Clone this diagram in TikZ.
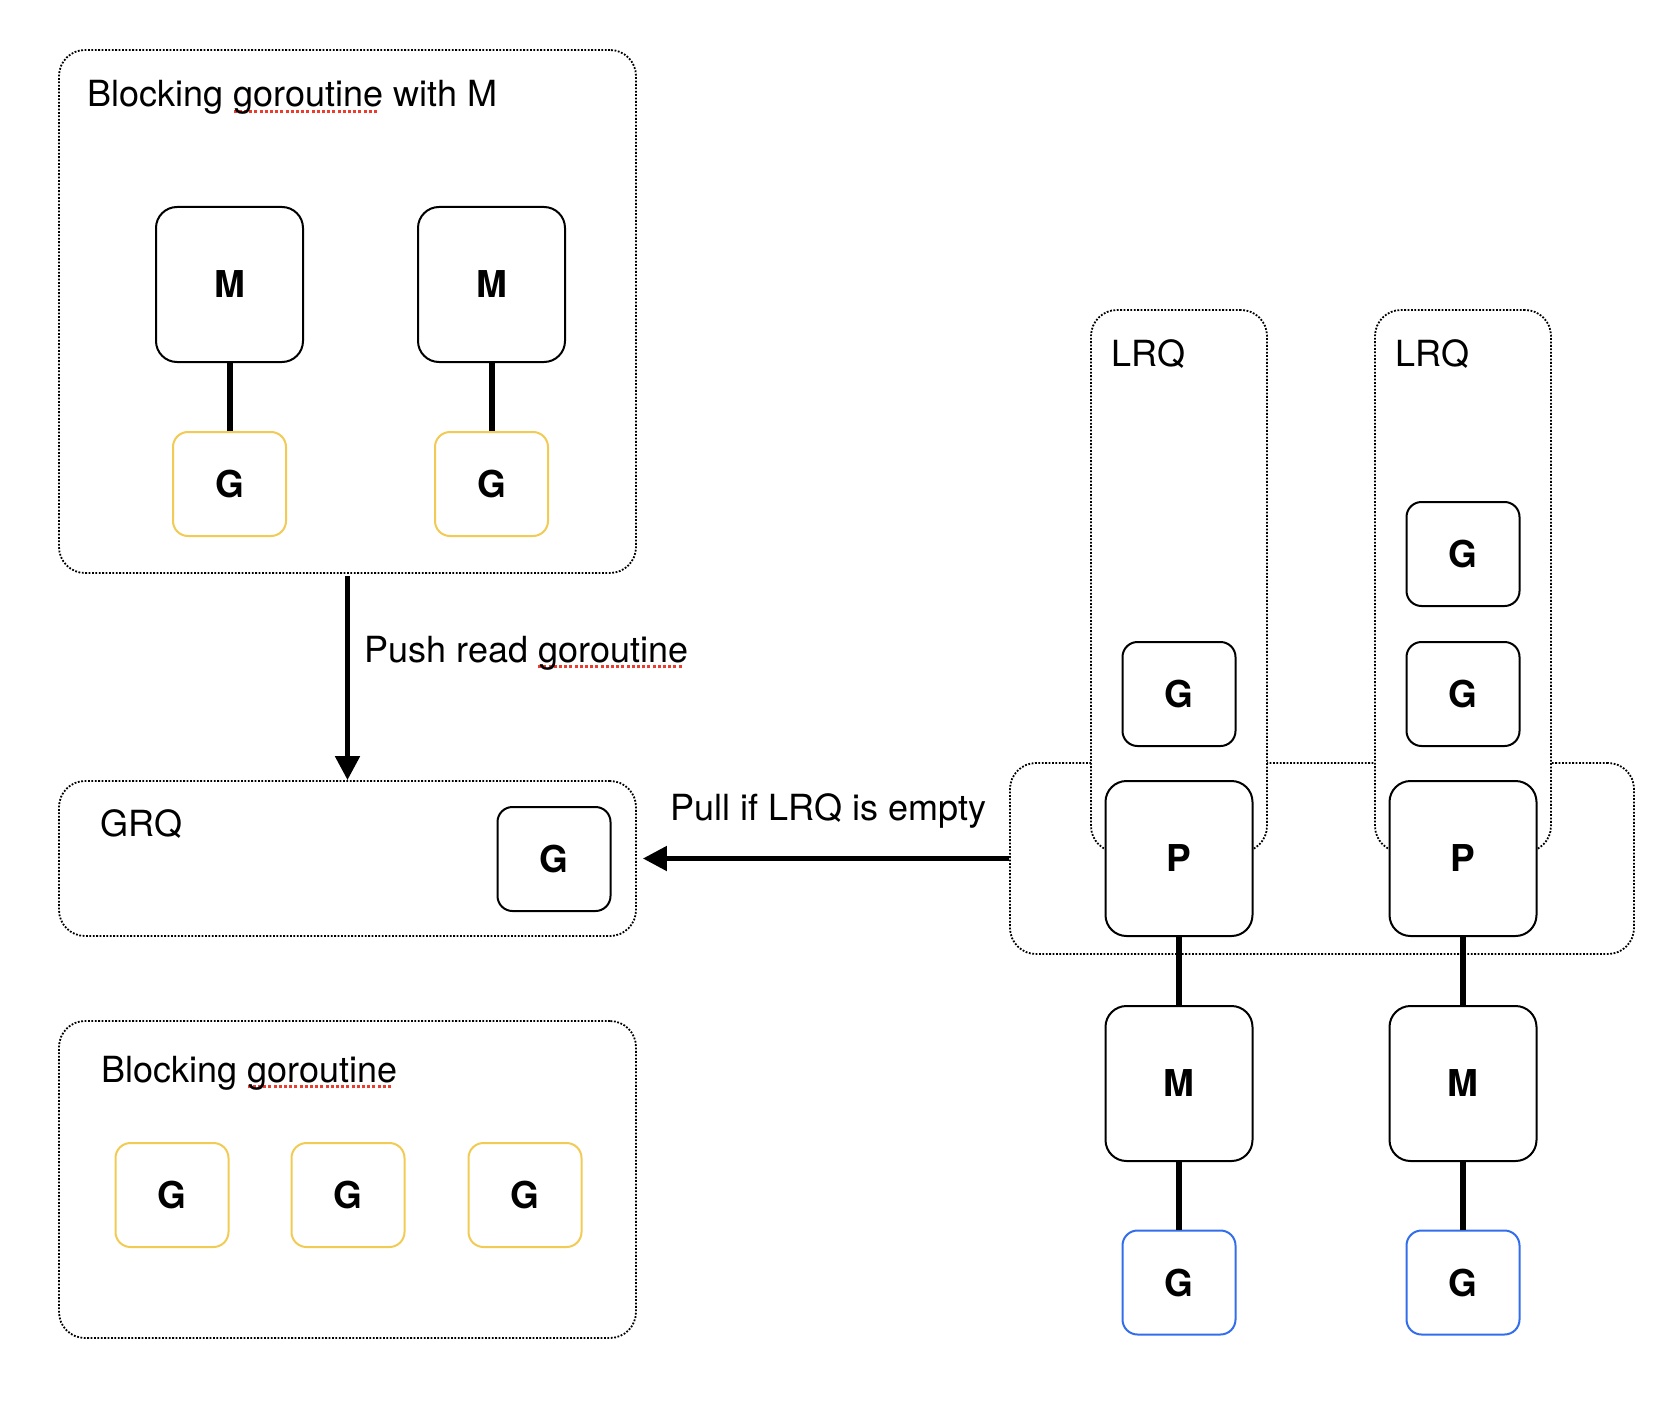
\documentclass[tikz,border=0pt]{standalone}
\usepackage{fontspec}
\setmainfont{TeX Gyre Heros}
\usepackage{tikz}
\usetikzlibrary{arrows.meta}

\definecolor{gyellow}{RGB}{242,203,85}
\definecolor{gblue}{RGB}{50,110,235}
\definecolor{spellred}{RGB}{235,60,45}

% 맞춤법 검사 밑줄 (빨간 점선)
\newcommand\spellmark[1]{\setbox0\hbox{#1}\rlap{\raisebox{-3.2pt}{\textcolor{spellred}{\hbox to \wd0{\leaders\hbox{\rule{1.5pt}{1.5pt}\kern1.1pt}\hfill}}}}#1}

\begin{document}
\begin{tikzpicture}[x=0.5pt, y=-0.5pt,
    queue/.style={draw, dash pattern=on 0.9pt off 0.8pt, line width=0.9pt, rounded corners=13pt, fill=white, inner sep=0pt},
    unit/.style={draw, line width=1pt, rounded corners=10.5pt, fill=white, inner sep=0pt, minimum width=73.5pt, minimum height=77.5pt, font=\fontsize{18.5}{22}\selectfont\bfseries},
    gor/.style={draw, line width=1pt, rounded corners=7.5pt, fill=white, inner sep=0pt, minimum width=56.5pt, minimum height=52pt, font=\fontsize{18.5}{22}\selectfont\bfseries},
    txt/.style={anchor=base west, inner sep=0pt, font=\fontsize{18}{22}\selectfont},
    link/.style={line width=3pt},
    flow/.style={line width=2.5pt, -{Triangle[length=12pt, width=12pt]}}]
        \useasboundingbox (0, 0) rectangle (1680, 1412);

        % 왼쪽 위: M과 함께 블로킹된 고루틴
        \node[queue, minimum width=288.5pt, minimum height=261.5pt] (blkm) at (347.5, 311.5) {};
        \node[txt] (blkmtitle) at (87, 107) {Blocking \spellmark{goroutine} with M};
        \node[unit] (m1) at (229.5, 284.5) {M};
        \node[unit] (m2) at (491.5, 284.5) {M};
        \node[gor, draw=gyellow] (g1) at (229.5, 484) {G};
        \node[gor, draw=gyellow] (g2) at (491.5, 484) {G};
        \draw[link] (m1.south) -- (g1.north);
        \draw[link] (m2.south) -- (g2.north);

        % 전역 실행 큐 (GRQ)
        \node[queue, minimum width=288.5pt, minimum height=77.5pt] (grq) at (347.5, 858.5) {};
        \node[txt] (grqtitle) at (100, 836) {GRQ};
        \node[gor] (gq) at (554, 859) {G};

        % 고루틴을 GRQ로 보내기
        \draw[flow, shorten <=1pt] (blkm.south) -- (grq.north);
        \node[txt] (pushlbl) at (364, 662) {Push read \spellmark{goroutine}};

        % 왼쪽 아래: 블로킹된 고루틴
        \node[queue, minimum width=288.5pt, minimum height=158.5pt] (blk) at (347.5, 1179.5) {};
        \node[txt] (blktitle) at (101, 1082) {Blocking \spellmark{goroutine}};
        \foreach \x [count=\i] in {172, 348, 525}
            \node[gor, draw=gyellow] (b\i) at (\x, 1195) {G};

        % 오른쪽: P들을 묶는 영역
        \node[queue, minimum width=312pt, minimum height=95.5pt] (pctr) at (1322, 858.5) {};

        % 각 P의 로컬 실행 큐 (LRQ)
        \foreach \x/\i in {1179/1, 1463/2} {
            \node[queue, minimum width=88pt, minimum height=271pt] (lrq\i) at (\x, 581) {};
            \node[txt] (lrqlbl\i) at (\x-68, 366) {LRQ};
        }
        \node[gor] (lg1) at (1179, 694) {G};
        \node[gor] (lg2a) at (1463, 554) {G};
        \node[gor] (lg2b) at (1463, 694) {G};

        % P - M - G 연결
        \foreach \x/\i in {1179/1, 1463/2} {
            \node[unit] (p\i) at (\x, 858.5) {P};
            \node[unit] (mm\i) at (\x, 1083.5) {M};
            \node[gor, draw=gblue] (r\i) at (\x, 1282.5) {G};
            \draw[link] (p\i.south) -- (mm\i.north);
            \draw[link] (mm\i.south) -- (r\i.north);
        }

        % LRQ가 비었을 때 GRQ에서 가져오기
        \draw[flow, shorten >=3pt] (pctr.west) -- (grq.east);
        \node[txt] (pulllbl) at (670, 820) {Pull if LRQ is empty};
\end{tikzpicture}
\end{document}
